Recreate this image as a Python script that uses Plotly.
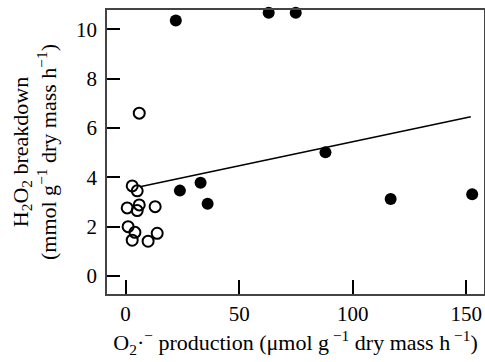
import plotly.graph_objects as go

# Filled circles
filled_x = [22.1, 63.0, 74.9, 23.9, 33.0, 36.1, 88.0, 116.7, 152.6]
filled_y = [10.35, 10.67, 10.67, 3.46, 3.78, 2.93, 5.01, 3.12, 3.31]

# Open circles
open_x = [6.0, 2.9, 5.1, 6.0, 0.7, 5.1, 13.0, 1.1, 4.1, 2.9, 9.9, 13.9]
open_y = [6.6, 3.65, 3.45, 2.88, 2.76, 2.65, 2.81, 2.0, 1.77, 1.45, 1.41, 1.73]

# Regression line
fit_x = [6.3, 152.0]
fit_y = [3.62, 6.45]

x_ticks = [0, 50, 100, 150]
y_ticks = [0, 2, 4, 6, 8, 10]

FAM = "Liberation Serif, DejaVu Serif, serif"
FT = dict(family=FAM, size=21, color="black")
FL = dict(family=FAM, size=22, color="black")

fig = go.Figure()
fig.add_trace(go.Scatter(x=fit_x, y=fit_y, mode="lines",
                         line=dict(color="black", width=1.5),
                         showlegend=False, hoverinfo="skip"))
fig.add_trace(go.Scatter(x=open_x, y=open_y, mode="markers",
                         marker=dict(symbol="circle-open", size=11, color="black",
                                     line=dict(width=2, color="black")),
                         showlegend=False, cliponaxis=False))
fig.add_trace(go.Scatter(x=filled_x, y=filled_y, mode="markers",
                         marker=dict(symbol="circle", size=12, color="black"),
                         showlegend=False, cliponaxis=False))

fig.update_layout(
    width=485, height=362,
    margin=dict(l=107, r=1, t=10, b=68, autoexpand=False),
    plot_bgcolor="white", paper_bgcolor="white",
    font=FT,
    xaxis=dict(range=[-8.2, 157.8], tickvals=x_ticks, ticks="inside",
               ticklen=14, tickwidth=1.5, tickcolor="black",
               showline=True, linecolor="#444", linewidth=1.5, mirror=True,
               showgrid=False, zeroline=False, automargin=False,
               tickfont=FT, ticklabelstandoff=0,
               title=dict(text="O<sub>2</sub>·<sup>−</sup> production (μmol g<sup> −1</sup> dry mass h<sup> −1</sup>)",
                          font=FL, standoff=10)),
    yaxis=dict(range=[-0.73, 10.78], tickvals=y_ticks, ticks="inside",
               ticklen=13, tickwidth=1.5, tickcolor="black",
               showline=True, linecolor="#444", linewidth=1.5, mirror=True,
               showgrid=False, zeroline=False, automargin=False,
               tickfont=FT, ticklabelstandoff=4,
               title=dict(text="H<sub>2</sub>O<sub>2</sub> breakdown<br>(mmol g<sup>−1</sup> dry mass h<sup>−1</sup>)",
                          font=FL, standoff=13)),
)

fig.write_html("out.html", config={"displayModeBar": False},
               post_script="document.body.style.margin='0';document.body.style.padding='0';")
